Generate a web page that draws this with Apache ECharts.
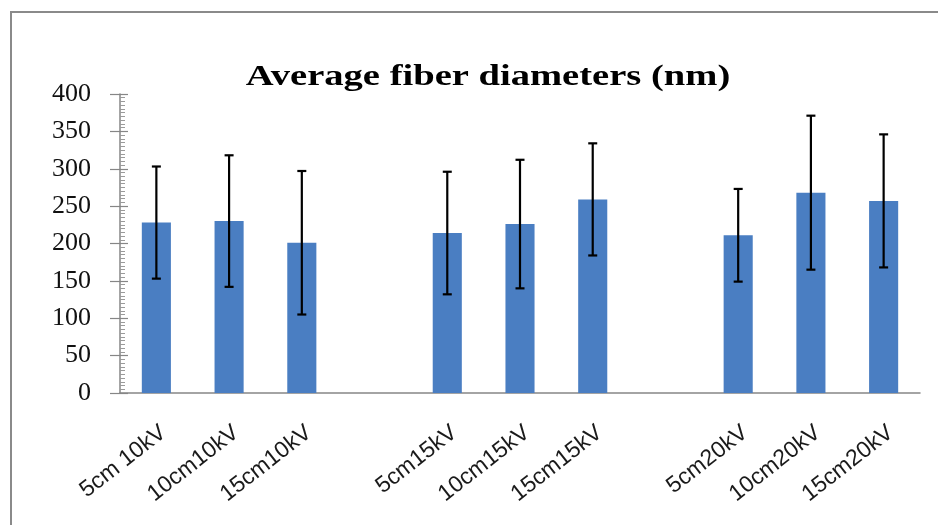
<!DOCTYPE html>
<html>
<head>
<meta charset="utf-8">
<script src="https://cdn.jsdelivr.net/npm/echarts@6/dist/echarts.min.js"></script>
<style>
  html, body { margin: 0; padding: 0; background: #ffffff; }
  #chart { width: 938px; height: 525px; }
</style>
</head>
<body>
<div id="chart"></div>
<script>
// Spinning conditions (tip-to-collector distance + voltage); blank entries separate the voltage groups
const categories = ['5cm 10kV', '10cm10kV', '15cm10kV', '', '5cm15kV', '10cm15kV', '15cm15kV', '', '5cm20kV', '10cm20kV', '15cm20kV'];
// Mean fiber diameter (nm)
const meanDiameter = [228, 230, 201, '-', 214, 226, 259, '-', 211, 268, 257];
// Standard deviation (nm), drawn as symmetric error bars
const stdDev = [75, 88, 96, '-', 82, 86, 75, '-', 62, 103, 89];
// Value axis range and tick step
const yMin = 0;
const yMax = 400;
const yStep = 50;

const titleText = 'Average fiber diameters (nm)';

const errorData = [];
categories.forEach(function (c, i) {
  const m = meanDiameter[i];
  const s = stdDev[i];
  if (typeof m === 'number' && typeof s === 'number') {
    errorData.push([i, m - s, m + s]);
  }
});

const gridBox = { left: 120, right: 18, top: 94, bottom: 132 };
const axisGray = '#868686';

const chart = echarts.init(document.getElementById('chart'), null, { renderer: 'canvas' });

chart.setOption({
  backgroundColor: '#ffffff',
  animation: false,
  graphic: [
    {
      // outer frame (only top and left edges fall inside the canvas)
      type: 'rect',
      silent: true,
      shape: { x: 11, y: 12, width: 960, height: 540 },
      style: { fill: null, stroke: '#8a8a8a', lineWidth: 2 },
      z: 0
    },
    {
      type: 'text',
      x: 488,
      y: 78,
      scaleX: 1.33,
      style: {
        text: titleText,
        font: 'bold 29px "Liberation Serif", "Times New Roman", serif',
        fill: '#000000',
        textAlign: 'center',
        textVerticalAlign: 'middle'
      },
      z: 10
    }
  ],
  grid: [
    Object.assign({ containLabel: false }, gridBox),
    Object.assign({ containLabel: false }, gridBox)
  ],
  xAxis: [
    {
      type: 'category',
      gridIndex: 0,
      data: categories,
      axisLine: { show: true, lineStyle: { color: axisGray, width: 1.5 } },
      axisTick: { show: false },
      axisLabel: {
        interval: 0,
        rotate: 38,
        align: 'right',
        verticalAlign: 'top',
        margin: 28,
        fontFamily: '"Liberation Sans", Arial, sans-serif',
        fontSize: 23,
        color: '#1a1a1a'
      },
      splitLine: { show: false }
    },
    {
      type: 'category',
      gridIndex: 1,
      data: categories,
      show: false
    }
  ],
  yAxis: [
    {
      type: 'value',
      gridIndex: 0,
      min: yMin,
      max: yMax,
      interval: yStep,
      axisLine: { show: true, lineStyle: { color: axisGray, width: 1.5 } },
      axisTick: { show: true, inside: false, length: 10, lineStyle: { color: axisGray, width: 1.2 } },
      axisLabel: {
        margin: 29,
        fontFamily: '"Liberation Serif", "Times New Roman", serif',
        fontSize: 26,
        color: '#111111'
      },
      splitLine: { show: false }
    },
    {
      // inner major and minor tick marks
      type: 'value',
      gridIndex: 1,
      min: yMin,
      max: yMax,
      interval: yStep,
      axisLine: { show: false },
      axisLabel: { show: false },
      axisTick: { show: true, inside: true, length: 8, lineStyle: { color: axisGray, width: 1.2 } },
      minorTick: { show: true, splitNumber: 10, length: 5, lineStyle: { color: '#9a9a9a', width: 1 } },
      splitLine: { show: false },
      minorSplitLine: { show: false }
    }
  ],
  series: [
    {
      name: 'Average fiber diameter',
      type: 'bar',
      xAxisIndex: 0,
      yAxisIndex: 0,
      data: meanDiameter,
      barWidth: '40%',
      itemStyle: { color: '#4a7ec2' },
      z: 2
    },
    {
      name: 'Standard deviation',
      type: 'custom',
      xAxisIndex: 0,
      yAxisIndex: 0,
      data: errorData,
      encode: { x: 0, y: [1, 2] },
      z: 5,
      renderItem: function (params, api) {
        const idx = api.value(0);
        const lo = api.coord([idx, api.value(1)]);
        const hi = api.coord([idx, api.value(2)]);
        const half = 4.5;
        const style = { stroke: '#000000', lineWidth: 2.2 };
        return {
          type: 'group',
          children: [
            { type: 'line', shape: { x1: hi[0], y1: hi[1], x2: lo[0], y2: lo[1] }, style: style },
            { type: 'line', shape: { x1: hi[0] - half, y1: hi[1], x2: hi[0] + half, y2: hi[1] }, style: style },
            { type: 'line', shape: { x1: lo[0] - half, y1: lo[1], x2: lo[0] + half, y2: lo[1] }, style: style }
          ]
        };
      }
    }
  ]
});
</script>
</body>
</html>
